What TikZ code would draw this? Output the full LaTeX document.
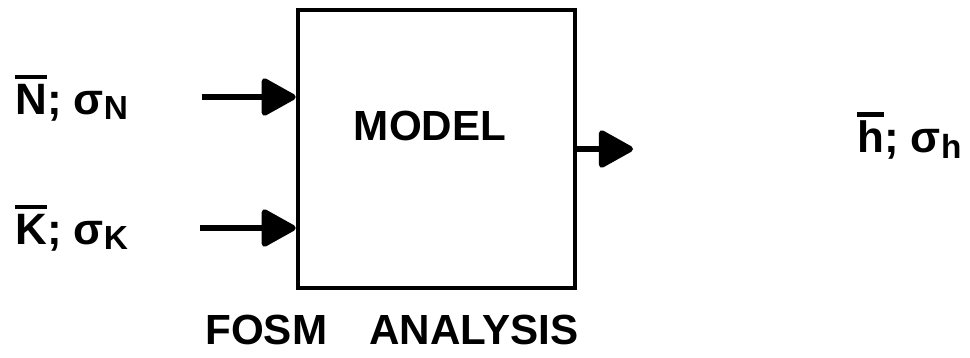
\documentclass[tikz,border=0pt]{standalone}
\usepackage{fontspec}
\setmainfont{Liberation Sans}
\usetikzlibrary{arrows.meta}
\newcommand{\mean}[1]{\leavevmode\vbox{\hrule height 2.6pt\kern 2.6pt\hbox{#1}}}
\newcommand{\lowsub}[1]{\raisebox{-0.12em}{\fontsize{19}{19}\selectfont\bfseries #1}}
\tikzset{
	lettering/.style={font=\fontsize{24}{28}\selectfont\bfseries, inner sep=0pt},
	flow/.style={line width=3.4pt, -{Triangle[length=0.75cm,width=0.8cm,round]}}
}

\begin{document}
\begin{tikzpicture}[x=0.02cm, y=-0.02cm]
			%%%%% START %%%%%
			\useasboundingbox (0, 0) rectangle (970, 358);
			
			\node[draw, line width=2.6pt, minimum width=5.54cm, minimum height=5.56cm] (model) at (436.5, 149) {};
			\node[lettering, anchor=base] (modeltext) at (430, 140) {MODEL};
			
			\node[lettering, font=\fontsize{25}{29}\selectfont\bfseries, anchor=base west] (nlabel) at (15, 114) {\mean{N}; σ\lowsub{N}};
			\node[lettering, font=\fontsize{25}{29}\selectfont\bfseries, anchor=base west] (klabel) at (15, 244) {\mean{K}; σ\lowsub{K}};
			\node[lettering, font=\fontsize{25}{29}\selectfont\bfseries, anchor=base west] (hlabel) at (857, 153) {\mean{h}; σ\lowsub{h}};
			
			\coordinate (nstart) at (202, 97);
			\coordinate (kstart) at (200, 228);
			\coordinate (hend) at (633, 149);
			\draw[flow] (nstart) -- (model.west |- nstart);
			\draw[flow] (kstart) -- (model.west |- kstart);
			\draw[flow] (model.east) -- (hend);
			
			\node[lettering, anchor=base west] (caption) at (205, 344) {FOSM\quad ANALYSIS};
			%%%%% END %%%%%
\end{tikzpicture}
\end{document}
